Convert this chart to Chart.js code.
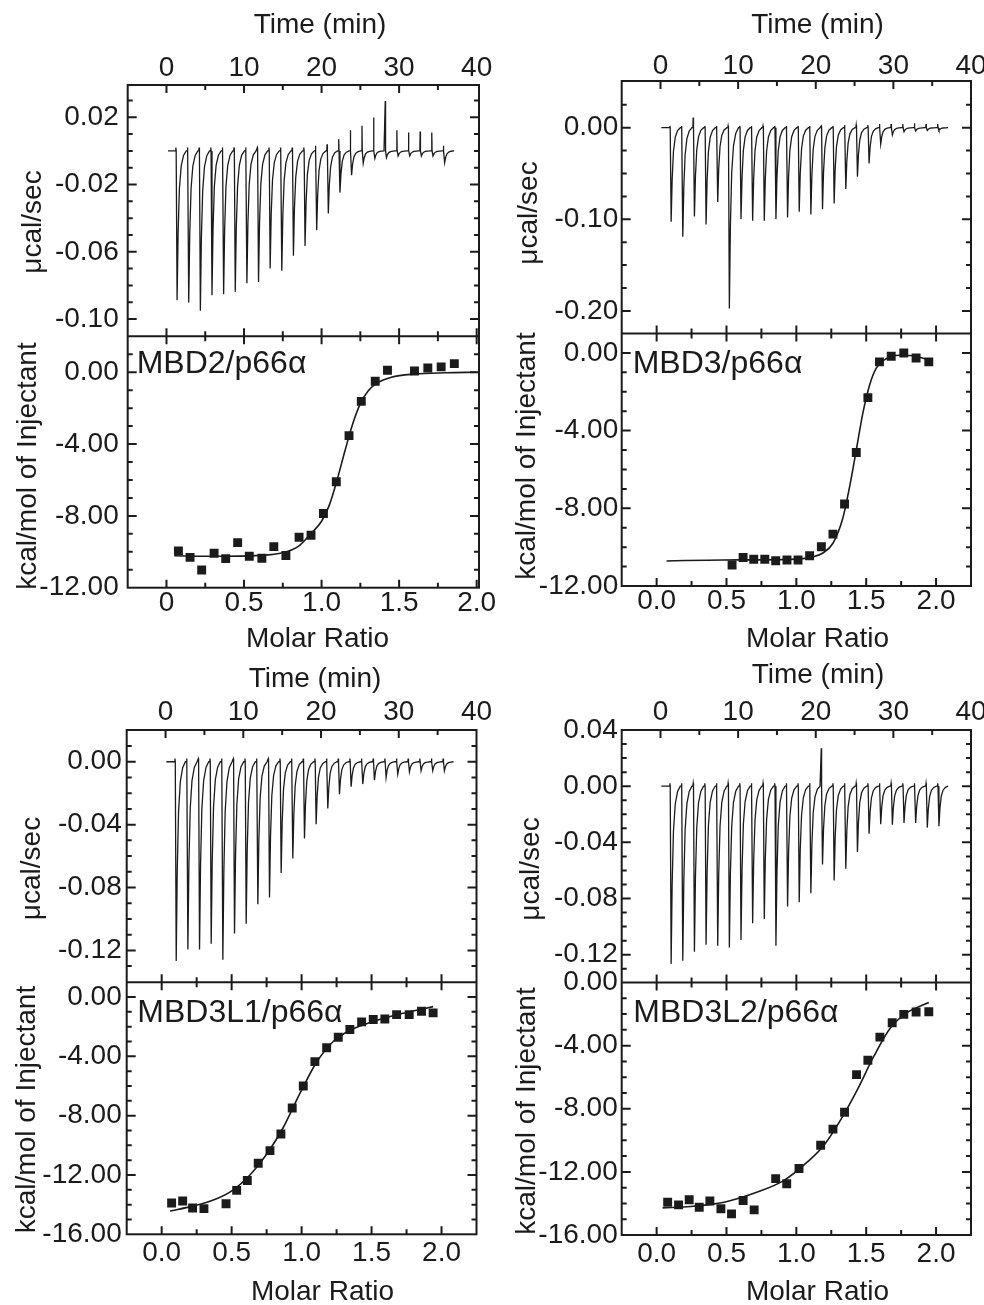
<!DOCTYPE html>
<html>
<head>
<meta charset="utf-8">
<script src="https://cdn.jsdelivr.net/npm/chart.js@4.4.1/dist/chart.umd.min.js"></script>
<style>
  html, body { margin: 0; padding: 0; background: #fff; }
  #wrap { position: relative; width: 984px; height: 1305px; overflow: hidden; }
  canvas { position: absolute; }
</style>
</head>
<body>
<div id="wrap">
  <canvas id="c1" width="515" height="652" style="left:0;top:0"></canvas>
  <canvas id="c3" width="515" height="653" style="left:0;top:652px"></canvas>
  <canvas id="c2" width="492" height="652" style="left:492px;top:0"></canvas>
  <canvas id="c4" width="492" height="653" style="left:492px;top:652px"></canvas>
</div>
<script>
const INK = '#1b1b1b';
const FONT = "'Liberation Sans', Arial, Helvetica, sans-serif";

// injection schedule (min), shared by the four titrations
const INJ_TIMES = [1.25, 2.75, 4.25, 5.75, 7.25, 8.75, 10.25, 11.75, 13.25, 14.75, 16.25, 17.75,
  19.25, 20.75, 22.25, 23.75, 25.25, 26.75, 28.25, 29.75, 31.25, 32.75, 34.25, 35.75];
// shape of one injection peak: time offset after injection / fraction of peak depth
const SPIKE_DT = [0, 0.12, 0.25, 0.42, 0.65, 0.95, 1.3];
const SPIKE_FRAC = [0, 1, 0.55, 0.25, 0.1, 0.03, 0];

// raw heat peaks (ucal/sec) and the small upward blips at each injection
const P1_PEAKS = [-0.0888, -0.0901, -0.0951, -0.0858, -0.0852, -0.0838, -0.0787, -0.0779, -0.0699, -0.0713, -0.0624, -0.0565,
  -0.0472, -0.0372, -0.0248, -0.0145, -0.0073, -0.0045, -0.004, -0.003, -0.003, -0.003, -0.003, -0.007];
const P1_BUMPS = [0.002, 0.002, 0.002, 0.002, 0.002, 0.002, 0.002, 0.002, 0.002, 0.002, 0.002, 0.002,
  0.003, 0.004, 0.007, 0.0123, 0.0149, 0.0198, 0.0297, 0.0123, 0.0109, 0.0115, 0.0109, 0.003];
const P2_PEAKS = [-0.1027, -0.119, -0.097, -0.1056, -0.081, -0.1975, -0.0998, -0.1016, -0.1016, -0.0998, -0.098, -0.0918,
  -0.0947, -0.0889, -0.0827, -0.067, -0.0536, -0.039, -0.0179, -0.008, -0.0044, -0.0036, -0.003, -0.003];
const P2_BUMPS = [0.002, 0.002, 0.011, 0.002, 0.002, 0.002, 0.002, 0.002, 0.002, 0.002, 0.002, 0.002,
  0.002, 0.002, 0.002, 0.003, 0.003, 0.003, 0.004, 0.004, 0.004, 0.005, 0.004, 0.004];
const P3_PEAKS = [-0.1268, -0.1195, -0.1195, -0.1157, -0.1259, -0.1093, -0.103, -0.0907, -0.0864, -0.0708, -0.0616, -0.0488,
  -0.0397, -0.0297, -0.0206, -0.0159, -0.0142, -0.0117, -0.010, -0.0079, -0.0064, -0.0057, -0.0057, -0.0057];
const P3_BUMPS = [0.002, 0.002, 0.002, 0.002, 0.002, 0.002, 0.002, 0.002, 0.002, 0.002, 0.002, 0.002,
  0.002, 0.002, 0.002, 0.002, 0.002, 0.002, 0.002, 0.002, 0.002, 0.002, 0.002, 0.002];
const P4_PEAKS = [-0.1267, -0.1243, -0.1179, -0.1129, -0.1136, -0.1148, -0.1095, -0.0976, -0.0945, -0.1136, -0.0857, -0.0826,
  -0.0762, -0.0557, -0.0671, -0.0588, -0.0469, -0.0338, -0.0271, -0.0274, -0.0262, -0.0262, -0.0295, -0.0286];
const P4_BUMPS = [0.002, 0.002, 0.002, 0.002, 0.002, 0.002, 0.002, 0.002, 0.002, 0.002, 0.002, 0.002,
  0.002, 0.027, 0.002, 0.002, 0.002, 0.002, 0.002, 0.002, 0.002, 0.002, 0.002, 0.002];

// integrated heats (kcal/mol of injectant) vs molar ratio
const P1_MR = [0.077, 0.152, 0.227, 0.307, 0.382, 0.459, 0.534, 0.615, 0.692, 0.770, 0.855, 0.932, 1.012, 1.095, 1.177,
  1.256, 1.346, 1.425, 1.599, 1.685, 1.771, 1.856];
const P1_HEAT = [-9.95, -10.31, -11.01, -10.08, -10.38, -9.49, -10.25, -10.36, -9.71, -10.21, -9.19, -9.08, -7.87, -6.10, -3.53,
  -1.62, -0.50, 0.11, 0.07, 0.24, 0.30, 0.48];
const P1_FIT_X = [0.05, 0.3, 0.6, 0.75, 0.85, 0.93, 1.0, 1.05, 1.1, 1.15, 1.2, 1.25, 1.3, 1.35, 1.45, 1.6, 1.8, 2.0];
const P1_FIT_Y = [-10.22, -10.25, -10.2, -10.05, -9.7, -9.0, -8.3, -7.4, -6.0, -4.4, -2.9, -1.75, -1.05, -0.65, -0.28, -0.1, -0.03, 0.0];

const P2_MR = [0.540, 0.619, 0.695, 0.774, 0.852, 0.933, 1.012, 1.095, 1.179, 1.262, 1.345, 1.429, 1.512, 1.595, 1.679,
  1.769, 1.857, 1.948];
const P2_HEAT = [-10.92, -10.53, -10.62, -10.62, -10.70, -10.66, -10.66, -10.44, -9.98, -9.33, -7.78, -5.13, -2.30, -0.46, -0.17,
  0.0, -0.26, -0.46];
const P2_FIT_X = [0.071, 0.476, 0.952, 1.119, 1.19, 1.262, 1.333, 1.381, 1.429, 1.476, 1.524, 1.571, 1.643, 1.738, 1.857, 1.952];
const P2_FIT_Y = [-10.71, -10.66, -10.63, -10.5, -10.3, -9.8, -8.5, -6.9, -5.0, -3.1, -1.66, -0.8, -0.3, -0.12, -0.17, -0.38];

const P3_MR = [0.071, 0.150, 0.221, 0.302, 0.460, 0.536, 0.612, 0.690, 0.774, 0.852, 0.933, 1.012, 1.095, 1.179, 1.262,
  1.345, 1.429, 1.512, 1.595, 1.679, 1.769, 1.857, 1.940];
const P3_HEAT = [-13.89, -13.76, -14.23, -14.27, -13.94, -13.04, -12.37, -11.21, -10.36, -9.24, -7.49, -6.0, -4.36, -3.42, -2.71,
  -2.19, -1.68, -1.52, -1.48, -1.19, -1.19, -0.96, -1.07];
const P3_FIT_X = [0.06, 0.221, 0.393, 0.512, 0.631, 0.75, 0.869, 0.988, 1.107, 1.226, 1.345, 1.464, 1.583, 1.702, 1.821, 1.94];
const P3_FIT_Y = [-14.43, -14.1, -13.6, -13.0, -12.0, -10.6, -8.8, -6.5, -4.4, -3.0, -2.25, -1.8, -1.45, -1.15, -0.9, -0.65];

const P4_MR = [0.079, 0.157, 0.233, 0.305, 0.381, 0.460, 0.536, 0.619, 0.698, 0.852, 0.931, 1.019, 1.174, 1.262, 1.345,
  1.431, 1.512, 1.598, 1.686, 1.769, 1.857, 1.948];
const P4_HEAT = [-13.92, -14.09, -13.77, -14.24, -13.85, -14.34, -14.66, -13.81, -14.41, -12.43, -12.75, -11.79, -10.31, -9.29, -8.22,
  -5.84, -4.93, -3.46, -2.55, -2.02, -1.87, -1.85];
const P4_FIT_X = [0.043, 0.245, 0.483, 0.721, 0.912, 1.079, 1.198, 1.317, 1.436, 1.555, 1.674, 1.793, 1.948];
const P4_FIT_Y = [-14.28, -14.19, -13.92, -13.28, -12.54, -11.37, -10.31, -8.71, -6.8, -4.67, -2.87, -1.91, -1.27];

// tick labels
const TIME_TICKS = [0, 10, 20, 30, 40];
const TIME_LABELS = ['0', '10', '20', '30', '40'];
const MR_TICKS = [0, 0.5, 1, 1.5, 2];
const MR_LABELS_A = ['0', '0.5', '1.0', '1.5', '2.0'];
const MR_LABELS_B = ['0.0', '0.5', '1.0', '1.5', '2.0'];
const KCAL_TICKS_A = [0, -4, -8, -12];
const KCAL_LABELS_A = ['0.00', '-4.00', '-8.00', '-12.00'];
const KCAL_TICKS_B = [0, -4, -8, -12, -16];
const KCAL_LABELS_B = ['0.00', '-4.00', '-8.00', '-12.00', '-16.00'];
const P1_RAW_TICKS = [0.02, -0.02, -0.06, -0.10];
const P1_RAW_LABELS = ['0.02', '-0.02', '-0.06', '-0.10'];
const P2_RAW_TICKS = [0, -0.1, -0.2];
const P2_RAW_LABELS = ['0.00', '-0.10', '-0.20'];
const P3_RAW_TICKS = [0, -0.04, -0.08, -0.12];
const P3_RAW_LABELS = ['0.00', '-0.04', '-0.08', '-0.12'];
const P4_RAW_TICKS = [0.04, 0, -0.04, -0.08, -0.12];
const P4_RAW_LABELS = ['0.04', '0.00', '-0.04', '-0.08', '-0.12'];

const PANELS = [
  { id: 'c1', name: 'MBD2/p66α', peaks: P1_PEAKS, bumps: P1_BUMPS, tStart: 0.2, tEnd: 37.1,
    mr: P1_MR, heat: P1_HEAT, fitX: P1_FIT_X, fitY: P1_FIT_Y,
    time: [-5.0, 40.3], mrRange: [-0.25, 2.015], raw: [-0.1103, 0.0392], rawStep: 0.01, kcal: [-12, 2],
    rawTicks: P1_RAW_TICKS, rawLabels: P1_RAW_LABELS, kcalTicks: KCAL_TICKS_A, kcalLabels: KCAL_LABELS_A, mrLabels: MR_LABELS_A,
    box: { left: 127.7, top: 85, right: 479, bottom: 587.7 }, padY: 9, padTop: -0.5, padBottom: -1.5,
    txt: { time: [320, 33], molar: [317.5, 646.7], ucal: [40.5, 222], kcal: [36, 466], name: [136.7, 372.7] } },
  { id: 'c2', name: 'MBD3/p66α', peaks: P2_PEAKS, bumps: P2_BUMPS, tStart: 0.1, tEnd: 37.1,
    mr: P2_MR, heat: P2_HEAT, fitX: P2_FIT_X, fitY: P2_FIT_Y,
    time: [-5.0, 40], mrRange: [-0.25, 2.25], raw: [-0.2247, 0.051], rawStep: 0.025, kcal: [-12, 1],
    rawTicks: P2_RAW_TICKS, rawLabels: P2_RAW_LABELS, kcalTicks: KCAL_TICKS_A, kcalLabels: KCAL_LABELS_A, mrLabels: MR_LABELS_B,
    box: { left: 129.7, top: 81, right: 479, bottom: 586 }, padY: 3.5, padTop: -1.8, padBottom: -1.5,
    txt: { time: [325.5, 33], molar: [325.5, 646.7], ucal: [45, 213], kcal: [43, 456], name: [140.7, 372.7] } },
  { id: 'c3', name: 'MBD3L1/p66α', peaks: P3_PEAKS, bumps: P3_BUMPS, tStart: 0.1, tEnd: 37.1,
    mr: P3_MR, heat: P3_HEAT, fitX: P3_FIT_X, fitY: P3_FIT_Y,
    time: [-5.0, 40], mrRange: [-0.25, 2.25], raw: [-0.1402, 0.0202], rawStep: 0.01, kcal: [-16, 1],
    rawTicks: P3_RAW_TICKS, rawLabels: P3_RAW_LABELS, kcalTicks: KCAL_TICKS_B, kcalLabels: KCAL_LABELS_B, mrLabels: MR_LABELS_B,
    box: { left: 126.7, top: 78, right: 476.5, bottom: 582.3 }, padY: 5, padTop: 0.7, padBottom: 2,
    txt: { time: [315, 34.7], molar: [322.5, 648], ucal: [40, 216.5], kcal: [35, 457.5], name: [137.3, 369.7] } },
  { id: 'c4', name: 'MBD3L2/p66α', peaks: P4_PEAKS, bumps: P4_BUMPS, tStart: 0.1, tEnd: 37.1,
    mr: P4_MR, heat: P4_HEAT, fitX: P4_FIT_X, fitY: P4_FIT_Y,
    time: [-5.0, 40], mrRange: [-0.25, 2.25], raw: [-0.1398, 0.04], rawStep: 0.01, kcal: [-16, 0],
    rawTicks: P4_RAW_TICKS, rawLabels: P4_RAW_LABELS, kcalTicks: KCAL_TICKS_B, kcalLabels: KCAL_LABELS_B, mrLabels: MR_LABELS_B,
    box: { left: 129.7, top: 78, right: 479, bottom: 583 }, padY: 4, padTop: 0.7, padBottom: 2,
    txt: { time: [326, 31], molar: [325.5, 648], ucal: [46.5, 217], kcal: [43, 459], name: [141.3, 369.7] } },
];

const zip = (xs, ys) => xs.map((x, i) => ({ x, y: ys[i] }));

function buildTrace(p) {
  const pts = [{ x: p.tStart, y: 0 }];
  INJ_TIMES.forEach((t, i) => {
    pts.push({ x: t - 0.08, y: 0 }, { x: t - 0.04, y: p.bumps[i] });
    SPIKE_DT.forEach((dt, k) => pts.push({ x: t + dt, y: p.peaks[i] * SPIKE_FRAC[k] }));
  });
  pts.push({ x: p.tEnd, y: 0 });
  return pts;
}

function stepTicks(lo, hi, step) {
  const out = [];
  for (let v = Math.ceil(lo / step - 1e-6) * step; v <= hi + 1e-9; v += step) out.push(+v.toFixed(4));
  return out;
}

// box, separator, inward tick marks on all edges, titles and panel name
function framePlugin(p) {
  return {
    id: 'frame',
    afterDraw(chart) {
      const { ctx, chartArea: a } = chart;
      const { xt, xm, yt, ym } = chart.scales;
      const sep = yt.bottom;
      const near = (v, list) => list.some((u) => Math.abs(u - v) < 1e-6);
      ctx.save();
      ctx.strokeStyle = INK;
      ctx.lineWidth = 2;
      ctx.beginPath();
      const seg = (x1, y1, x2, y2) => { ctx.moveTo(x1, y1); ctx.lineTo(x2, y2); };
      seg(a.left, sep, a.right, sep);
      stepTicks(0, 35, 5).forEach((v) => {
        const x = xt.getPixelForValue(v);
        seg(x, a.top, x, a.top + (v % 10 === 0 ? 8 : 5));
      });
      stepTicks(0, 2, 0.25).forEach((v) => {
        const x = xm.getPixelForValue(v);
        const len = near(v, MR_TICKS) ? 8 : 5;
        seg(x, sep - len, x, sep + len);
        seg(x, a.bottom, x, a.bottom - len);
      });
      stepTicks(p.raw[0], p.raw[1], p.rawStep).forEach((v) => {
        const y = yt.getPixelForValue(v);
        if (y < a.top + 2 || y > sep - 2) return;
        const len = near(v, p.rawTicks) ? 9 : 5;
        seg(a.left, y, a.left + len, y);
        seg(a.right, y, a.right - len, y);
      });
      stepTicks(p.kcal[0], p.kcal[1], 1).forEach((v) => {
        const y = ym.getPixelForValue(v);
        if (y < sep + 2 || y > a.bottom - 2) return;
        const len = near(v, p.kcalTicks) ? 9 : 5;
        seg(a.left, y, a.left + len, y);
        seg(a.right, y, a.right - len, y);
      });
      ctx.stroke();
      ctx.strokeRect(a.left, a.top, a.right - a.left, a.bottom - a.top);

      ctx.fillStyle = INK;
      ctx.textBaseline = 'alphabetic';
      ctx.font = `28px ${FONT}`;
      ctx.textAlign = 'center';
      ctx.fillText('Time (min)', p.txt.time[0], p.txt.time[1]);
      ctx.fillText('Molar Ratio', p.txt.molar[0], p.txt.molar[1]);
      const vtext = (s, x, y) => {
        ctx.save();
        ctx.translate(x, y);
        ctx.rotate(-Math.PI / 2);
        ctx.fillText(s, 0, 0);
        ctx.restore();
      };
      vtext('μcal/sec', p.txt.ucal[0], p.txt.ucal[1]);
      vtext('kcal/mol of Injectant', p.txt.kcal[0], p.txt.kcal[1]);
      ctx.font = `32px ${FONT}`;
      ctx.textAlign = 'left';
      ctx.fillText(p.name, p.txt.name[0], p.txt.name[1]);
      ctx.restore();
    },
  };
}

function makePanel(p) {
  const canvas = document.getElementById(p.id);
  const W = canvas.width;
  const H = canvas.height;
  const b = p.box;
  const tickFont = { family: FONT, size: 28 };
  const noGrid = { display: false, drawTicks: false };
  const setTicks = (vals) => (s) => { s.ticks = vals.map((v) => ({ value: v })); };
  const fitX = (h) => (s) => { s.height = h; s.paddingLeft = 0; s.paddingRight = 0; };
  const fitY = (s) => { s.width = b.left; s.paddingTop = 0; s.paddingBottom = 0; };
  const tickOpts = (pad, labels) => ({
    font: tickFont, color: INK, padding: pad, autoSkip: false, maxRotation: 0, minRotation: 0,
    callback: (v, i) => labels[i],
  });

  return new Chart(canvas, {
    type: 'line',
    data: {
      datasets: [
        { data: buildTrace(p), xAxisID: 'xt', yAxisID: 'yt', borderColor: INK, borderWidth: 1.3,
          pointRadius: 0, tension: 0, fill: false },
        { data: zip(p.fitX, p.fitY), xAxisID: 'xm', yAxisID: 'ym', borderColor: INK, borderWidth: 1.6,
          pointRadius: 0, cubicInterpolationMode: 'monotone', fill: false },
        { data: zip(p.mr, p.heat), xAxisID: 'xm', yAxisID: 'ym', showLine: false, pointStyle: 'rect',
          pointRadius: 6.3, pointBorderWidth: 0, pointBackgroundColor: INK, borderColor: INK },
      ],
    },
    options: {
      responsive: false,
      animation: false,
      events: [],
      layout: { autoPadding: false, padding: { left: 0, top: 0, bottom: 0, right: W - b.right } },
      plugins: { legend: { display: false }, tooltip: { enabled: false } },
      scales: {
        xt: { type: 'linear', position: 'top', min: p.time[0], max: p.time[1], grid: noGrid, border: { display: false },
          ticks: tickOpts(p.padTop, TIME_LABELS), afterBuildTicks: setTicks(TIME_TICKS), afterFit: fitX(b.top) },
        xm: { type: 'linear', position: 'bottom', min: p.mrRange[0], max: p.mrRange[1], grid: noGrid, border: { display: false },
          ticks: tickOpts(p.padBottom, p.mrLabels), afterBuildTicks: setTicks(MR_TICKS), afterFit: fitX(H - b.bottom) },
        // left boxes are stacked in reverse order, so the kcal axis is listed first to sit below
        ym: { type: 'linear', position: 'left', stack: 'itc', stackWeight: 1, min: p.kcal[0], max: p.kcal[1],
          grid: noGrid, border: { display: false },
          ticks: tickOpts(p.padY, p.kcalLabels), afterBuildTicks: setTicks(p.kcalTicks), afterFit: fitY },
        yt: { type: 'linear', position: 'left', stack: 'itc', stackWeight: 1, min: p.raw[0], max: p.raw[1],
          grid: noGrid, border: { display: false },
          ticks: tickOpts(p.padY, p.rawLabels), afterBuildTicks: setTicks(p.rawTicks), afterFit: fitY },
      },
    },
    plugins: [framePlugin(p)],
  });
}

PANELS.forEach(makePanel);
</script>
</body>
</html>
